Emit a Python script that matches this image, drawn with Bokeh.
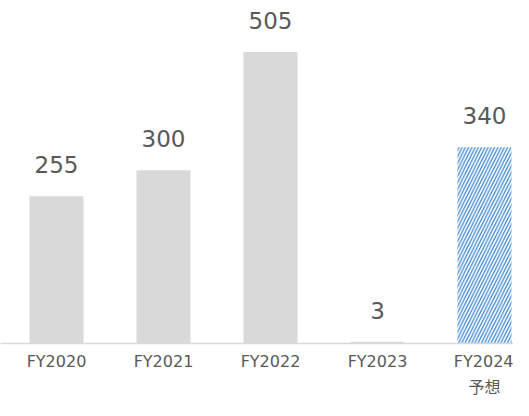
from bokeh.plotting import figure
from bokeh.models import ColumnDataSource, Range1d, LabelSet, FixedTicker, LinearAxis
from bokeh.core.properties import value
from bokeh.embed import file_html
from bokeh.resources import INLINE

categories = ["FY2020", "FY2021", "FY2022", "FY2023", "FY2024"]
sublabels = ["", "", "", "", "予想"]
values = [255, 300, 505, 3, 340]
forecast = [False, False, False, False, True]

xs = [i + 0.5 for i in range(len(categories))]
actual = ColumnDataSource(dict(x=[x for x, f in zip(xs, forecast) if not f],
                               top=[v for v, f in zip(values, forecast) if not f]))
fc = ColumnDataSource(dict(x=[x for x, f in zip(xs, forecast) if f],
                           top=[v for v, f in zip(values, forecast) if f]))
lab = ColumnDataSource(dict(x=xs, y=values, t=[str(v) for v in values]))

p = figure(width=513, height=400, output_backend="svg", toolbar_location=None,
           x_range=Range1d(-0.0234, 4.771), y_range=Range1d(0, 594),
           min_border_left=0, min_border_right=0, min_border_top=0, min_border_bottom=56)
p.outline_line_color = None
p.xgrid.visible = False
p.ygrid.visible = False
p.yaxis.visible = False

p.vbar(x="x", top="top", width=0.505, source=actual, fill_color="#d9d9d9", line_color=None)
p.vbar(x="x", top="top", width=0.505, source=fc, fill_color="white", line_color=None,
       hatch_pattern="right_diagonal_line", hatch_color="#2f7fd0", hatch_scale=6.5,
       hatch_weight=1.2)

labels = LabelSet(x="x", y="y", text="t", source=lab, text_align="center",
                  text_baseline="alphabetic", y_offset=23, text_font_size="23px",
                  text_color="#595959", text_font=value("DejaVu Sans"))
p.add_layout(labels)

ax = p.xaxis[0]
ax.ticker = FixedTicker(ticks=xs)
ax.major_label_overrides = {x: c for x, c in zip(xs, categories)}
ax.major_tick_line_color = None
ax.minor_tick_line_color = None
ax.major_tick_out = 0
ax.major_tick_in = 0
ax.axis_line_color = "#d9d9d9"
ax.axis_line_width = 1.5
ax.major_label_text_font_size = "16px"
ax.major_label_text_color = "#595959"
ax.major_label_text_font = "DejaVu Sans"
ax.major_label_standoff = 8

sub_ticks = [x for x, s in zip(xs, sublabels) if s]
ax2 = LinearAxis(ticker=FixedTicker(ticks=sub_ticks),
                 major_label_overrides={x: s for x, s in zip(xs, sublabels) if s},
                 axis_line_color=None, major_tick_line_color=None,
                 minor_tick_line_color=None, major_tick_out=0, major_tick_in=0,
                 major_label_text_font_size="16px", major_label_text_color="#595959",
                 major_label_text_font="Noto Sans CJK JP", major_label_standoff=0,
                 major_label_text_line_height=0.9)
p.add_layout(ax2, "below")

open("out.html", "w").write(file_html(p, INLINE))
